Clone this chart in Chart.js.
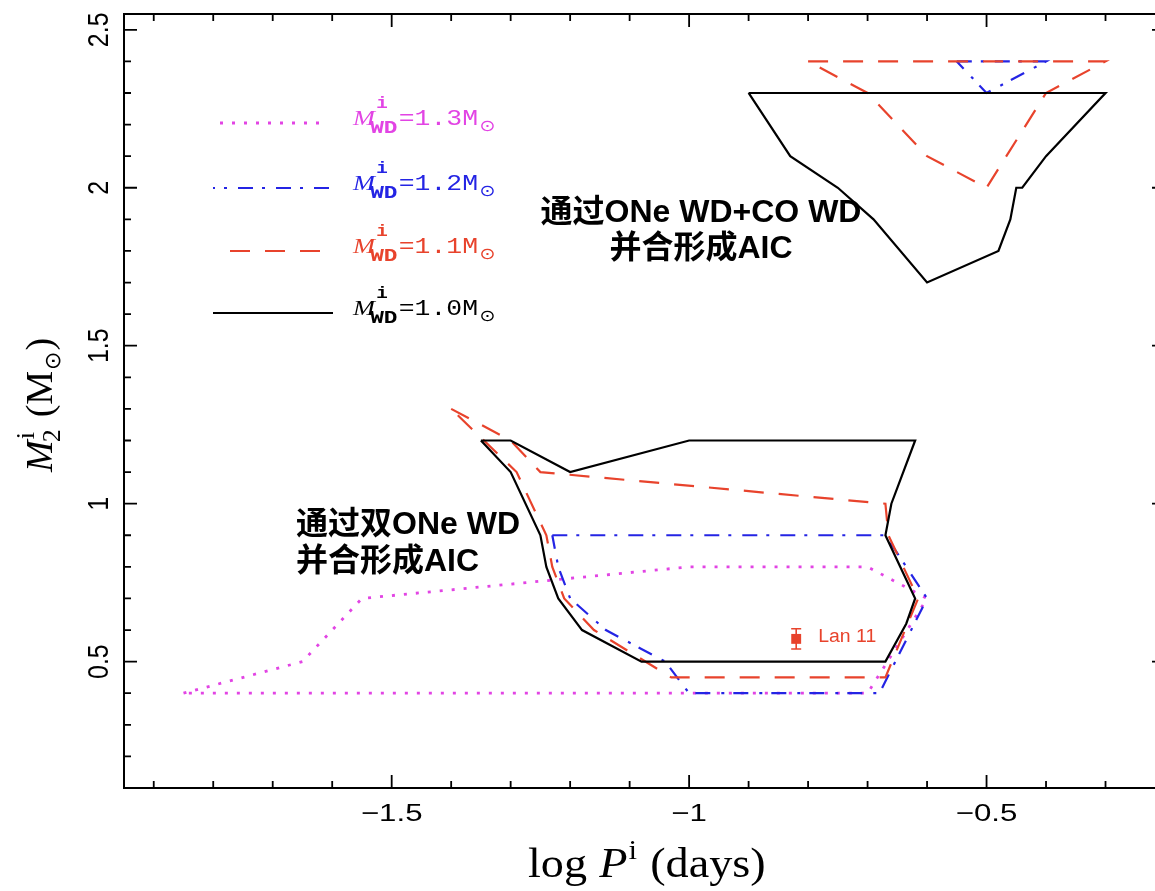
<!DOCTYPE html>
<html>
<head>
<meta charset="utf-8">
<script src="https://cdn.jsdelivr.net/npm/chart.js@4.4.1/dist/chart.umd.min.js"></script>
<style>
  html, body { margin: 0; padding: 0; overflow: hidden; background: #fff; }
  canvas { display: block; }
</style>
</head>
<body>
<canvas id="c" width="1180" height="891" style="width:1180px;height:891px"></canvas>
<script>
// Axis ranges and tick labels
const xRange = [-1.95, -0.2];
const yRange = [0.1, 2.55];
const xTickValues = [-1.5, -1.0, -0.5];
const xTickLabels = ['\u22121.5', '\u22121', '\u22120.5'];
const yTickValues = [0.5, 1.0, 1.5, 2.0, 2.5];
const yTickLabels = ['0.5', '1', '1.5', '2', '2.5'];

// Initial WD masses shown in the legend (top to bottom)
const wdMasses = ['1.3', '1.2', '1.1', '1.0'];

// M_WD = 1.0: ONe WD + CO WD region (upper) and double ONe WD region (lower)
const p10Upper = [-0.9, -0.3, -0.4, -0.44, -0.45, -0.46, -0.48, -0.6, -0.69, -0.75, -0.83, -0.9];
const m10Upper = [2.3, 2.3, 2.1, 2.0, 2.0, 1.9, 1.8, 1.7, 1.9, 2.0, 2.1, 2.3];
const p10Lower = [-1.35, -1.3, -1.2, -1.0, -0.62, -0.66, -0.67, -0.62, -0.635, -0.67, -1.08, -1.18, -1.22, -1.24, -1.25, -1.3, -1.35];
const m10Lower = [1.2, 1.2, 1.1, 1.2, 1.2, 1.0, 0.9, 0.7, 0.62, 0.5, 0.5, 0.6, 0.7, 0.8, 0.9, 1.1, 1.2];

// M_WD = 1.1
const p11Upper = [-0.8, -0.3, -0.4, -0.5, -0.6, -0.7, -0.8];
const m11Upper = [2.4, 2.4, 2.3, 2.0, 2.1, 2.3, 2.4];
const p11Lower = [-1.4, -1.3, -1.25, -0.67, -0.665, -0.615, -0.67, -1.03, -1.16, -1.21, -1.23, -1.24, -1.29, -1.4];
const m11Lower = [1.3, 1.2, 1.1, 1.0, 0.9, 0.7, 0.45, 0.45, 0.6, 0.7, 0.8, 0.9, 1.1, 1.3];

// M_WD = 1.2
const p12Upper = [-0.55, -0.4, -0.5, -0.55];
const m12Upper = [2.4, 2.4, 2.3, 2.4];
const p12Lower = [-1.23, -0.67, -0.6, -0.68, -1.0, -1.04, -1.14, -1.2, -1.22, -1.23];
const m12Lower = [0.9, 0.9, 0.7, 0.4, 0.4, 0.5, 0.6, 0.7, 0.8, 0.9];

// M_WD = 1.3
const p13 = [-1.85, -1.65, -1.55, -1.0, -0.7, -0.6, -0.68, -0.7, -1.85];
const m13 = [0.4, 0.5, 0.7, 0.8, 0.8, 0.7, 0.46, 0.4, 0.4];

// Observed system with error bar
const obsName = 'Lan 11';
const obsLogP = [-0.82];
const obsM2 = [0.572];
const obsErr = [0.032];

// Region labels
const upperNote = ['通过ONe WD+CO WD', '并合形成AIC'];
const lowerNote = ['通过双ONe WD', '并合形成AIC'];

const cBlack = '#000000';
const cRed = '#e8432c';
const cBlue = '#2424e4';
const cMag = '#e244e4';

const styles = {
  '1.3': { color: cMag, dash: [3, 9], width: 2.8, x0: 220, x1: 326, off: 0 },
  '1.2': { color: cBlue, dash: [15, 9, 3, 11], width: 2.2, x0: 213, x1: 329, off: 13 },
  '1.1': { color: cRed, dash: [20, 15], width: 2.2, x0: 230, x1: 321, off: 0 },
  '1.0': { color: cBlack, dash: [], width: 2.2, x0: 213, x1: 333, off: 0 }
};
const legendY = [123, 188, 251, 313];

const seg = (xs, ys) => xs.map((v, i) => ({ x: v, y: ys[i] }));
const gap = { x: null, y: null };

function lineSet(mass, pts) {
  const s = styles[mass];
  return {
    label: mass, data: pts, showLine: true, fill: false,
    borderColor: s.color, borderWidth: s.width, borderDash: s.dash,
    pointRadius: 0, pointHoverRadius: 0, tension: 0
  };
}

// Draws a row of text runs with sub/superscripts, optionally stretched horizontally
function drawRuns(ctx, runs, x, y, sx, color) {
  ctx.save();
  ctx.translate(x, y);
  ctx.scale(sx, 1);
  ctx.fillStyle = color;
  ctx.textAlign = 'left';
  ctx.textBaseline = 'alphabetic';
  let cx = 0;
  for (const r of runs) {
    ctx.font = r.f;
    const px = cx + (r.dx || 0);
    ctx.fillText(r.t, px, r.dy || 0);
    if (!r.keep) cx = px + ctx.measureText(r.t).width;
  }
  ctx.restore();
}

const decor = {
  id: 'decor',
  afterDatasetsDraw(chart) {
    const { ctx, scales: { x, y } } = chart;
    ctx.save();

    // error bar of the observed system
    const ex = x.getPixelForValue(obsLogP[0]);
    const eTop = y.getPixelForValue(obsM2[0] + obsErr[0]);
    const eBot = y.getPixelForValue(obsM2[0] - obsErr[0]);
    ctx.strokeStyle = cRed; ctx.lineWidth = 1.6; ctx.setLineDash([]);
    ctx.beginPath();
    ctx.moveTo(ex, eTop); ctx.lineTo(ex, eBot);
    ctx.moveTo(ex - 5, eTop); ctx.lineTo(ex + 5, eTop);
    ctx.moveTo(ex - 5, eBot); ctx.lineTo(ex + 5, eBot);
    ctx.stroke();
    drawRuns(ctx, [{ t: obsName, f: '18px "Liberation Sans"' }], ex + 22, y.getPixelForValue(obsM2[0]) + 3, 1.08, cRed);

    // region notes
    ctx.fillStyle = '#000';
    ctx.font = 'bold 32px "Liberation Sans", "Noto Sans CJK SC", sans-serif';
    ctx.textBaseline = 'middle';
    ctx.textAlign = 'center';
    ctx.fillText(upperNote[0], 701, 213);
    ctx.fillText(upperNote[1], 701, 249);
    ctx.textAlign = 'left';
    ctx.fillText(lowerNote[0], 296, 525);
    ctx.fillText(lowerNote[1], 296, 562);

    // legend
    wdMasses.forEach((m, i) => {
      const s = styles[m];
      const ly = legendY[i];
      ctx.strokeStyle = s.color; ctx.lineWidth = s.width;
      ctx.setLineDash(s.dash); ctx.lineDashOffset = s.off;
      ctx.beginPath(); ctx.moveTo(s.x0, ly); ctx.lineTo(s.x1, ly); ctx.stroke();
      ctx.setLineDash([]); ctx.lineDashOffset = 0;
      drawRuns(ctx, [
        { t: 'M', f: 'italic 22px "Liberation Serif"' },
        { t: 'i', f: 'bold 16px "Liberation Mono"', dx: 1, dy: -17, keep: true },
        { t: 'WD', f: 'bold 19px "Liberation Mono"', dx: -4, dy: 8 },
        { t: '=' + m + 'M', f: '22px "Liberation Mono"', dx: 1 },
        { t: '\u2299', f: '16px "DejaVu Sans"', dx: 1, dy: 6 }
      ], 353, ly + 2, 1.2, s.color);
    });
    ctx.restore();
  },
  afterDraw(chart) {
    const { ctx, chartArea: a, scales: { x, y } } = chart;
    ctx.save();
    ctx.strokeStyle = '#000';
    ctx.setLineDash([]);
    ctx.lineWidth = 2;
    ctx.strokeRect(a.left, a.top, a.right - a.left, a.bottom - a.top);

    // inward ticks on all four sides
    ctx.lineWidth = 1.8;
    ctx.beginPath();
    for (let k = Math.ceil(xRange[0] * 10); k <= Math.floor(xRange[1] * 10); k++) {
      const px = x.getPixelForValue(k / 10);
      if (px <= a.left + 1 || px >= a.right - 1) continue;
      const len = (k % 5 === 0) ? 13 : 7;
      ctx.moveTo(px, a.bottom); ctx.lineTo(px, a.bottom - len);
      ctx.moveTo(px, a.top); ctx.lineTo(px, a.top + len);
    }
    for (let k = Math.ceil(yRange[0] * 10); k <= Math.floor(yRange[1] * 10); k++) {
      const py = y.getPixelForValue(k / 10);
      if (py >= a.bottom - 1 || py <= a.top + 1) continue;
      const len = (k % 5 === 0) ? 13 : 7;
      ctx.moveTo(a.left, py); ctx.lineTo(a.left + len, py);
      ctx.moveTo(a.right, py); ctx.lineTo(a.right - len, py);
    }
    ctx.stroke();

    // tick labels
    ctx.fillStyle = '#000';
    ctx.font = '24px "Liberation Sans"';
    ctx.textAlign = 'center';
    ctx.textBaseline = 'alphabetic';
    xTickValues.forEach((v, i) => {
      ctx.save();
      ctx.translate(x.getPixelForValue(v), 821);
      ctx.scale(1.3, 1);
      ctx.fillText(xTickLabels[i], 0, 0);
      ctx.restore();
    });
    ctx.font = '25px "Liberation Sans"';
    yTickValues.forEach((v, i) => {
      ctx.save();
      ctx.translate(108, y.getPixelForValue(v));
      ctx.rotate(-Math.PI / 2);
      ctx.scale(1, 1.15);
      ctx.fillText(yTickLabels[i], 0, 0);
      ctx.restore();
    });

    // axis titles
    drawRuns(ctx, [
      { t: 'log', f: '42px "Liberation Serif"' },
      { t: 'P', f: 'italic 42px "Liberation Serif"', dx: 11 },
      { t: 'i', f: '28px "Liberation Serif"', dx: 1, dy: -18 },
      { t: '(days)', f: '42px "Liberation Serif"', dx: 12 }
    ], 528, 877, 1.1, '#000');

    ctx.save();
    ctx.translate(52, 472);
    ctx.rotate(-Math.PI / 2);
    drawRuns(ctx, [
      { t: 'M', f: 'italic 38px "Liberation Serif"' },
      { t: 'i', f: '26px "Liberation Serif"', dx: 1, dy: -18, keep: true },
      { t: '2', f: '26px "Liberation Serif"', dx: -2, dy: 8 },
      { t: '(M', f: '38px "Liberation Serif"', dx: 12 },
      { t: '\u2299', f: '22px "DejaVu Sans"', dx: 1, dy: 8 },
      { t: ')', f: '38px "Liberation Serif"', dx: 1 }
    ], 0, 0, 1, '#000');
    ctx.restore();
    ctx.restore();
  }
};

new Chart(document.getElementById('c'), {
  type: 'scatter',
  data: {
    datasets: [
      lineSet('1.0', [...seg(p10Upper, m10Upper), gap, ...seg(p10Lower, m10Lower)]),
      lineSet('1.1', [...seg(p11Upper, m11Upper), gap, ...seg(p11Lower, m11Lower)]),
      lineSet('1.2', [...seg(p12Upper, m12Upper), gap, ...seg(p12Lower, m12Lower)]),
      lineSet('1.3', seg(p13, m13)),
      {
        label: obsName, data: seg(obsLogP, obsM2), showLine: false,
        pointStyle: 'rect', pointRadius: 7, pointHoverRadius: 7,
        backgroundColor: cRed, borderColor: cRed, borderWidth: 0
      }
    ]
  },
  options: {
    responsive: false,
    animation: false,
    devicePixelRatio: 1,
    layout: { padding: { left: 124, top: 14, right: 15, bottom: 103 } },
    scales: {
      x: { type: 'linear', min: xRange[0], max: xRange[1], display: false },
      y: { type: 'linear', min: yRange[0], max: yRange[1], display: false }
    },
    plugins: { legend: { display: false }, tooltip: { enabled: false } },
    events: []
  },
  plugins: [decor]
});
</script>
</body>
</html>
